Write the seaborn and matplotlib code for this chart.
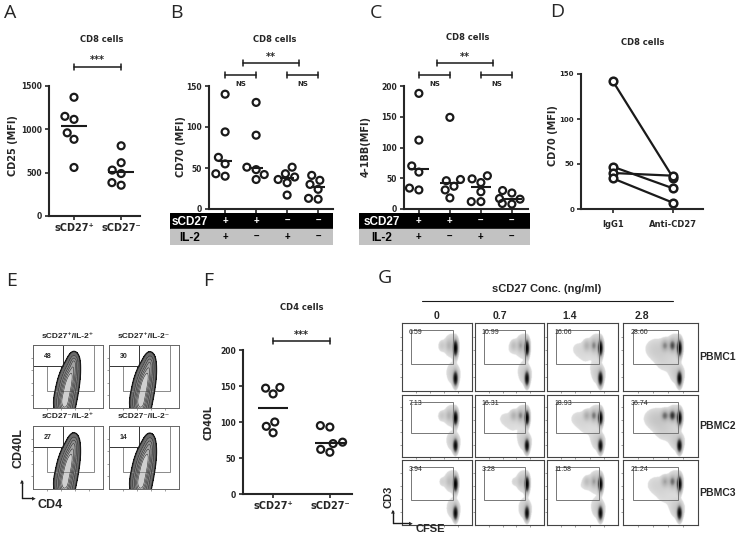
import numpy as np
import pandas as pd
import seaborn as sns
import matplotlib.pyplot as plt
from matplotlib.patches import Rectangle
from matplotlib.colors import LinearSegmentedColormap, PowerNorm

# multi-panel figure: sCD27 effects on CD8 / CD4 cells

sns.set_theme(style="ticks")
plt.rcParams['font.family'] = ['DejaVu Sans']

# ---- data ----
# A: CD25 MFI on CD8 cells
a_groups = ['sCD27⁺', 'sCD27⁻']
a_pos = [1370, 1150, 1115, 960, 885, 560]
a_neg = [810, 615, 530, 490, 385, 355]

# B: CD70 MFI on CD8 cells, four culture conditions
cond = ['c1', 'c2', 'c3', 'c4']
tab_sCD27 = ['+', '+', '–', '–']
tab_IL2 = ['+', '–', '+', '–']
b_c1 = [140, 94, 63, 55, 43, 40]
b_c2 = [130, 90, 51, 48, 42, 36]
b_c3 = [51, 43, 39, 36, 32, 17]
b_c4 = [41, 35, 30, 24, 13, 12]

# C: 4-1BB MFI on CD8 cells
c_c1 = [188, 112, 70, 60, 34, 31]
c_c2 = [149, 48, 46, 37, 31, 18]
c_c3 = [54, 49, 43, 28, 12, 12]
c_c4 = [30, 26, 17, 16, 9, 8]

# D: CD70 MFI, paired donors
d_groups = ['IgG1', 'Anti-CD27']
d_donors = ['d1', 'd2', 'd3', 'd4']
d_igg1 = [142, 47, 40, 34]
d_anti = [35, 23, 37, 7]

# E: CD40L+ CD4 cells (%)
e_titles = ['sCD27⁺/IL-2⁺', 'sCD27⁺/IL-2⁻', 'sCD27⁻/IL-2⁺', 'sCD27⁻/IL-2⁻']
e_pct = [48, 30, 27, 14]

# F: CD40L on CD4 cells
f_groups = ['sCD27⁺', 'sCD27⁻']
f_pos = [148, 147, 139, 100, 94, 85]
f_neg = [95, 93, 72, 70, 62, 58]

# G: CFSE dilution (% divided)
g_conc = ['0', '0.7', '1.4', '2.8']
g_donors = ['PBMC1', 'PBMC2', 'PBMC3']
g_pct = [[6.59, 10.99, 16.06, 28.60],
         [7.13, 16.31, 18.93, 36.74],
         [3.94, 3.28, 11.58, 21.24]]

W, H = 750, 546
fig = plt.figure(figsize=(W / 100, H / 100), dpi=100)
CAL = ['Liberation Sans', 'DejaVu Sans']


def add_ax(l, t, r, b):
    return fig.add_axes([l / W, 1 - b / H, (r - l) / W, (b - t) / H])


def ftext(x, y, s, **kw):
    kw.setdefault('ha', 'center')
    kw.setdefault('va', 'center')
    fig.text(x / W, 1 - y / H, s, **kw)


def style_axes(ax):
    ax.set_xlabel('')
    ax.set_ylabel('')
    sns.despine(ax=ax)
    for s in ['left', 'bottom']:
        ax.spines[s].set_linewidth(1.5)
    ax.tick_params(length=3, width=1.2, labelsize=5.5, pad=2)
    for lbl in ax.get_yticklabels():
        lbl.set_fontweight('bold')


def scatter_panel(ax, groups, values, ylim, yticks, med_w, xlim):
    df = pd.DataFrame({'group': np.repeat(groups, [len(v) for v in values]),
                       'value': np.concatenate(values)})
    sns.swarmplot(data=df, x='group', y='value', order=groups, size=5,
                  color='k', ax=ax)
    for c in ax.collections:
        c.set_facecolor('none')
        c.set_edgecolor('k')
        c.set_linewidth(1.6)
    sns.pointplot(data=df, x='group', y='value', order=groups,
                  estimator='median', errorbar=None, linestyle='none',
                  marker='_', markersize=med_w, markeredgewidth=1.5,
                  color='k', ax=ax)
    ax.set_xlim(*xlim)
    ax.set_ylim(*ylim)
    ax.set_yticks(yticks)
    style_axes(ax)


def bracket(ax, x0, x1, yf, cap, text, tyf, fs=7):
    tr = ax.get_xaxis_transform()
    ax.plot([x0, x1], [yf, yf], color='k', lw=1.1, transform=tr, clip_on=False)
    for x in (x0, x1):
        ax.plot([x, x], [yf - cap, yf + cap], color='k', lw=1.1,
                transform=tr, clip_on=False)
    ax.text((x0 + x1) / 2, tyf, text, transform=tr, ha='center', va='center',
            fontsize=fs, fontweight='bold')


def cond_table(ax, main_l, main_r, tab_l, tab_r, top, bot, label_x):
    xl = ax.get_xlim()
    scale = (xl[1] - xl[0]) / (main_r - main_l)
    tax = add_ax(tab_l, top, tab_r, bot)
    tax.set_xlim(xl[0] - (main_l - tab_l) * scale, xl[1] + (tab_r - main_r) * scale)
    tax.set_ylim(0, 2)
    tax.axis('off')
    tax.axhspan(1, 2, color='black')
    tax.axhspan(0, 1, color='#c2c2c2')
    for i, (s, il) in enumerate(zip(tab_sCD27, tab_IL2)):
        tax.text(i, 1.5, s, color='white', ha='center', va='center',
                 fontsize=7, fontweight='bold', family=CAL)
        tax.text(i, 0.5, il, color='black', ha='center', va='center',
                 fontsize=7, fontweight='bold', family=CAL)
    lx = xl[0] - (main_l - label_x) * scale
    tax.text(lx, 1.45, 'sCD27', color='white', ha='center', va='center',
             fontsize=8.5, fontweight='bold', family=CAL)
    tax.text(lx, 0.45, 'IL-2', color='black', ha='center', va='center',
             fontsize=8.5, fontweight='bold', family=CAL)


def gauss(X, Y, cx, cy, sx, sy, w):
    return w * np.exp(-0.5 * (((X - cx) / sx) ** 2 + ((Y - cy) / sy) ** 2))


def frame(ax, color, lw):
    ax.set_xticks([0.2, 0.4, 0.6, 0.8])
    ax.set_yticks([0.2, 0.4, 0.6, 0.8])
    ax.set_xticklabels([])
    ax.set_yticklabels([])
    ax.tick_params(length=1.5, width=0.5, color='#777777')
    for s in ax.spines.values():
        s.set_color(color)
        s.set_linewidth(lw)


def arrows(x0, y0, x1, y1):
    fig.add_artist(plt.Line2D([x0 / W, x0 / W], [1 - y0 / H, 1 - y1 / H], color='k', lw=1))
    fig.add_artist(plt.Line2D([x0 / W, x1 / W], [1 - y0 / H, 1 - y0 / H], color='k', lw=1))
    ftext(x0, y1, '▲', fontsize=3.5)
    ftext(x1 + 1, y0, '▶', fontsize=3.5)


# ---- A ----
ax = add_ax(49, 86, 140, 216)
scatter_panel(ax, a_groups, [a_pos, a_neg], (0, 1500), [0, 500, 1000, 1500], 19,
              (-0.53, 1.40))
ax.set_xticks([0, 1])
ax.set_xticklabels(a_groups, fontsize=7, fontweight='bold')
bracket(ax, 0, 1, 1.146, 0.025, '***', 1.2)
ftext(102, 40, 'CD8 cells', fontsize=6, fontweight='bold')
ftext(13, 146, 'CD25 (MFI)', rotation=90, fontsize=7, fontweight='bold')
ftext(4, 13, 'A', ha='left', fontsize=14, family=['Open Sans'])

# ---- B ----
ax = add_ax(209, 86, 333, 209)
scatter_panel(ax, cond, [b_c1, b_c2, b_c3, b_c4], (0, 150), [0, 50, 100, 150], 10,
              (-0.52, 3.48))
ax.set_xticks(range(4))
ax.set_xticklabels([])
bracket(ax, 0, 1, 1.089, 0.022, 'NS', 1.02, fs=5)
bracket(ax, 2, 3, 1.089, 0.022, 'NS', 1.02, fs=5)
bracket(ax, 0.58, 2.39, 1.187, 0.022, '**', 1.235)
cond_table(ax, 209, 333, 170, 333, 213, 245, 190)
ftext(275, 39, 'CD8 cells', fontsize=6, fontweight='bold')
ftext(181, 147, 'CD70 (MFI)', rotation=90, fontsize=7, fontweight='bold')
ftext(170, 13, 'B', ha='left', fontsize=14, family=['Open Sans'])

# ---- C ----
ax = add_ax(404, 86, 528, 209)
scatter_panel(ax, cond, [c_c1, c_c2, c_c3, c_c4], (0, 200), [0, 50, 100, 150, 200], 14,
              (-0.48, 3.52))
ax.set_xticks(range(4))
ax.set_xticklabels([])
bracket(ax, 0, 1, 1.089, 0.022, 'NS', 1.02, fs=5)
bracket(ax, 2, 3, 1.089, 0.022, 'NS', 1.02, fs=5)
bracket(ax, 0.58, 2.39, 1.187, 0.022, '**', 1.235)
cond_table(ax, 404, 528, 359, 530, 213, 245, 382)
ftext(468, 38, 'CD8 cells', fontsize=6, fontweight='bold')
ftext(366, 147, '4-1BB(MFI)', rotation=90, fontsize=7, fontweight='bold')
ftext(370, 13, 'C', ha='left', fontsize=14, family=['Open Sans'])

# ---- D ----
ax = add_ax(581, 74, 703, 209)
df_d = pd.DataFrame({'donor': d_donors * 2,
                     'cond': np.repeat(d_groups, len(d_donors)),
                     'value': d_igg1 + d_anti})
sns.pointplot(data=df_d, x='cond', y='value', hue='donor', order=d_groups,
              palette=['k'] * 4, marker='o', markersize=5.5,
              markerfacecolor='white', markeredgewidth=1.8, linewidth=1.6,
              errorbar=None, legend=False, ax=ax)
ax.set_xlim(-0.53, 1.5)
ax.set_ylim(0, 150)
ax.set_yticks([0, 50, 100, 150])
style_axes(ax)
ax.tick_params(axis='y', labelsize=5)
ax.set_xticks([0, 1])
ax.set_xticklabels(d_groups, fontsize=6, fontweight='bold')
ax.tick_params(axis='x', pad=5)
ftext(643, 43, 'CD8 cells', fontsize=6, fontweight='bold')
ftext(553, 136, 'CD70 (MFI)', rotation=90, fontsize=7, fontweight='bold')
ftext(550, 12, 'D', ha='left', fontsize=14, family=['Open Sans'])

# ---- E: contour plots ----
EX, EY = np.meshgrid(np.linspace(0, 1, 200), np.linspace(-0.2, 1, 240))
e_cols = [33, 109]
e_rows = [345, 426]
e_w, e_h = 70, 63
for k, (title, pct) in enumerate(zip(e_titles, e_pct)):
    l = e_cols[k % 2]
    t = e_rows[k // 2]
    ax = add_ax(l, t, l + e_w, t + e_h)
    Z = (gauss(EX, EY, 0.45, 0.08, 0.06, 0.12, 1.0)
         + gauss(EX, EY, 0.49, 0.30, 0.06, 0.12, 0.9)
         + gauss(EX, EY, 0.53, 0.48, 0.055, 0.11, 0.7)
         + gauss(EX, EY, 0.57, 0.63, 0.045, 0.10, 0.45)
         + gauss(EX, EY, 0.59, 0.74, 0.035, 0.07, 0.12 + pct / 250))
    lv = np.array([0.03, 0.045, 0.15, 0.3, 0.45, 0.6, 0.75, 1.0]) * Z.max()
    ax.contourf(EX, EY, Z, levels=lv,
                colors=['#111111', '#6a6a6a', '#7e7e7e', '#909090', '#a2a2a2',
                        '#b4b4b4', '#cfcfcf'])
    ax.contour(EX, EY, Z, levels=lv[2:-1], colors='#2a2a2a', linewidths=0.4)
    ax.contour(EX, EY, Z, levels=lv[:1], colors='k', linewidths=1.0)
    ax.set_xlim(0, 1)
    ax.set_ylim(0, 1)
    ax.add_patch(Rectangle((0.2, 0.27), 0.67, 0.73, fill=False, ec='#8a8a8a', lw=0.7))
    ax.add_patch(Rectangle((0.0, 0.66), 0.43, 0.34, fc='white', ec='#333333', lw=0.7))
    ax.text(0.21, 0.82, str(pct), ha='center', va='center', fontsize=5,
            fontweight='bold', family=CAL)
    frame(ax, '#666666', 0.7)
    ftext(l + e_w / 2, t - 9, title, fontsize=6, fontweight='bold', family=CAL)

ftext(19, 448, 'CD40L', rotation=90, fontsize=9, fontweight='bold', family=CAL)
ftext(37, 505, 'CD4', ha='left', fontsize=9, fontweight='bold', family=CAL)
arrows(22, 498, 33, 481)
ftext(6, 281, 'E', ha='left', fontsize=14, family=['Open Sans'])

# ---- F ----
ax = add_ax(243, 350, 352, 494)
scatter_panel(ax, f_groups, [f_pos, f_neg], (0, 200), [0, 50, 100, 150, 200], 22,
              (-0.53, 1.39))
ax.set_xticks([0, 1])
ax.set_xticklabels(f_groups, fontsize=7, fontweight='bold')
bracket(ax, 0, 1, 1.0625, 0.021, '***', 1.105)
ftext(302, 307, 'CD4 cells', fontsize=6, fontweight='bold')
ftext(208, 423, 'CD40L', rotation=90, fontsize=7, fontweight='bold')
ftext(203, 281, 'F', ha='left', fontsize=14, family=['Open Sans'])

# ---- G: CFSE pseudo-colour plots ----
GX, GY = np.meshgrid(np.linspace(0, 1, 160), np.linspace(0, 1, 160))
g_cmap = LinearSegmentedColormap.from_list('flow', ['#e2e2e2', '#b0b0b0', '#3a3a3a', '#000000'])
g_cmap.set_bad('white')
g_cols = [(402, 472), (475, 544), (547, 618), (623, 698)]
g_rows = [(323, 391), (395, 457), (460, 525)]
for r, donor in enumerate(g_donors):
    for c, conc in enumerate(g_conc):
        pct = g_pct[r][c]
        f = pct / 30
        (l, rr), (t, b) = g_cols[c], g_rows[r]
        ax = add_ax(l, t, rr, b)
        Z = (gauss(GX, GY, 0.755, 0.63, 0.02, 0.07, 1.0)
             + gauss(GX, GY, 0.755, 0.18, 0.02, 0.065, 0.9)
             + gauss(GX, GY, 0.70, 0.68, 0.07, 0.11, 0.09)
             + gauss(GX, GY, 0.73, 0.25, 0.07, 0.11, 0.08)
             + gauss(GX, GY, 0.66, 0.67, 0.025, 0.05, 0.4 * f)
             + gauss(GX, GY, 0.56, 0.67, 0.03, 0.05, 0.25 * f)
             + gauss(GX, GY, 0.45, 0.62, 0.12, 0.12, 0.07 * f)
             + gauss(GX, GY, 0.55, 0.40, 0.10, 0.12, 0.04 * f))
        ax.imshow(np.ma.masked_less(Z, 0.03), extent=[0, 1, 0, 1], origin='lower',
                  cmap=g_cmap, norm=PowerNorm(0.6, vmin=0.03, vmax=1.0),
                  aspect='auto', interpolation='bilinear')
        ax.set_xlim(0, 1)
        ax.set_ylim(0, 1)
        ax.add_patch(Rectangle((0.13, 0.39), 0.6, 0.5, fill=False, ec='#777777', lw=0.7))
        ax.text(0.1, 0.86, f'{pct:.2f}', ha='left', va='center', fontsize=5,
                family=CAL)
        frame(ax, '#444444', 0.8)
    ftext(718, (g_rows[r][0] + g_rows[r][1]) / 2, donor, fontsize=7.5,
          fontweight='bold', family=CAL)

for x, conc in zip([437, 500, 570, 642], g_conc):
    ftext(x, 316, conc, fontsize=7.5, fontweight='bold', family=CAL)
ftext(547, 289, 'sCD27 Conc. (ng/ml)', fontsize=8, fontweight='bold', family=CAL)
fig.add_artist(plt.Line2D([422 / W, 673 / W], [1 - 301 / H, 1 - 301 / H], color='k', lw=0.8))
ftext(388, 497, 'CD3', rotation=90, fontsize=8, fontweight='bold', family=CAL)
ftext(415, 529, 'CFSE', ha='left', fontsize=8, fontweight='bold', family=CAL)
arrows(393, 523, 410, 511)
ftext(378, 278, 'G', ha='left', fontsize=14, family=['Open Sans'])

fig.savefig('out.png', dpi=100)
